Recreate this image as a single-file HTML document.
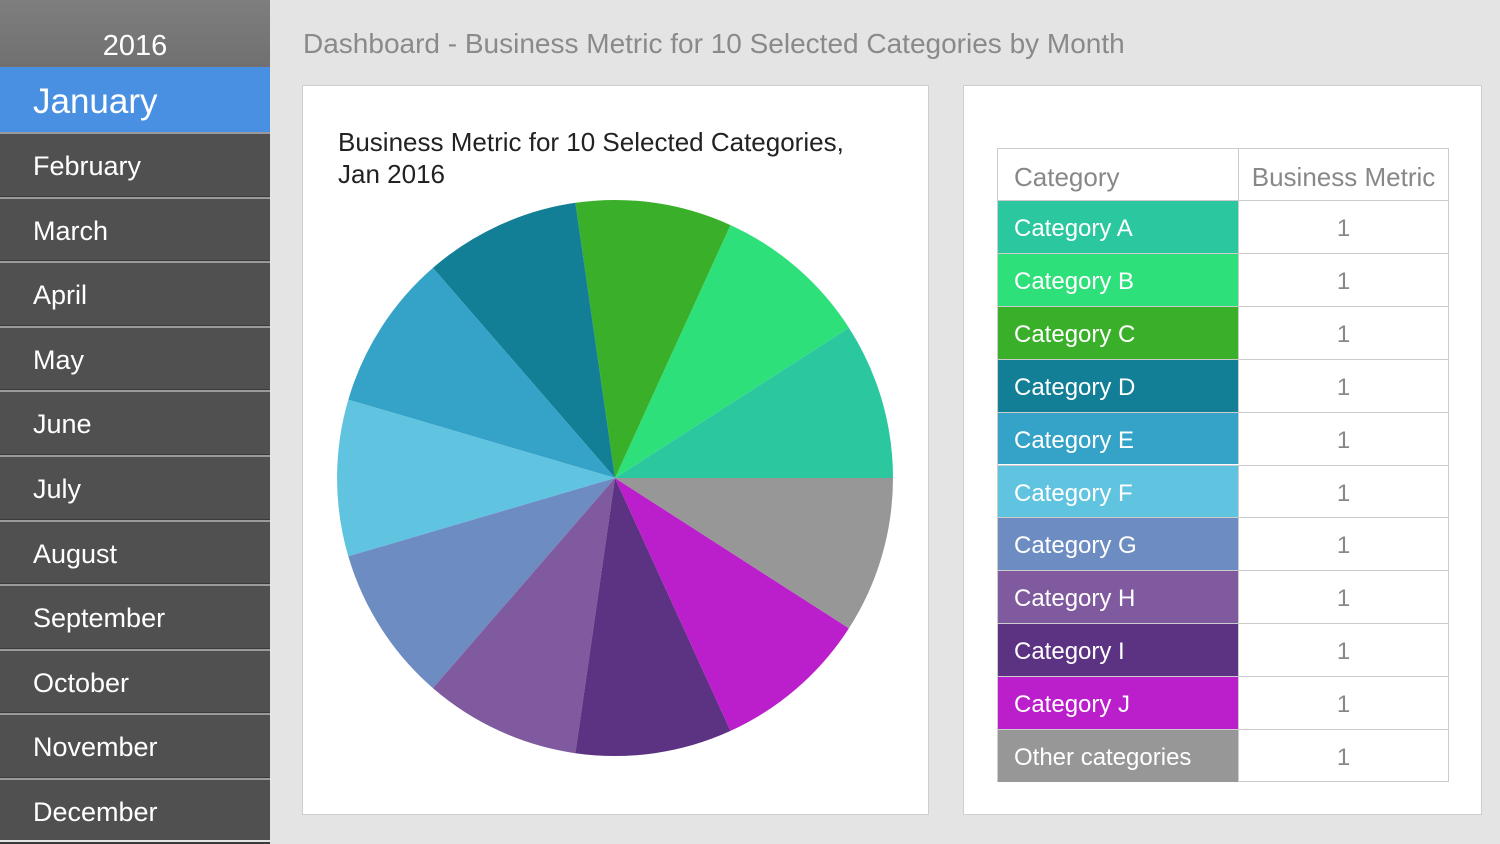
<!DOCTYPE html>
<html><head><meta charset="utf-8"><style>
body{margin:0;width:1500px;height:840px;background:#e4e4e4;font-family:"Liberation Sans",sans-serif;position:relative;overflow:hidden}
.side{position:absolute;left:0;top:0;width:270px;height:840px;background:#505050}
.yr{position:absolute;left:0;top:0;width:270px;height:67px;background:linear-gradient(#7e7e7e,#707070);color:#fff;font-size:29px;text-align:center;line-height:92px}
.jan{position:absolute;left:0;top:67px;width:270px;height:65px;background:#4a90e2;color:#fff;font-size:35px;line-height:70px;padding-left:33px;box-sizing:border-box}
.m{position:absolute;left:0;width:270px;height:64.6px;color:#fff;font-size:27px;padding-left:33px;box-sizing:border-box;border-top:2px solid #9a9a9a;line-height:64px}
.m:after{content:"";position:absolute;left:0;right:0;bottom:-1px;height:2px;background:#3a3a3a}
.title{position:absolute;left:303px;top:28px;color:#8a8a8a;font-size:28px}
.p{position:absolute;top:85px;height:728px;background:#fff;border:1px solid #cfcfcf}
.tb{position:absolute;left:997px;top:148px;width:452px;height:634px;border:1px solid #ccc;box-sizing:border-box}
.r{position:absolute;left:0;width:450px;height:52.9px;font-size:24px;line-height:56px;border-top:1px solid #ccc;box-sizing:border-box}
.r .c{position:absolute;left:0;top:0;width:240px;height:100%;color:#fff;padding-left:16px;box-sizing:border-box}
.r .v{position:absolute;left:240px;top:0;width:210px;height:100%;color:#888;text-align:center;border-left:1px solid #ccc;box-sizing:border-box}
</style></head><body>
<div class="side">
<div class="yr">2016</div>
<div class="jan">January</div>
<div class="m" style="top:132px">February</div>
<div class="m" style="top:196.6px">March</div>
<div class="m" style="top:261.2px">April</div>
<div class="m" style="top:325.8px">May</div>
<div class="m" style="top:390.4px">June</div>
<div class="m" style="top:455px">July</div>
<div class="m" style="top:519.6px">August</div>
<div class="m" style="top:584.2px">September</div>
<div class="m" style="top:648.8px">October</div>
<div class="m" style="top:713.4px">November</div>
<div class="m" style="top:778px">December</div>
</div>
<div class="title">Dashboard - Business Metric for 10 Selected Categories by Month</div>
<div class="p" style="left:302px;width:625px"></div>
<div class="p" style="left:963px;width:517px"></div>
<div style="position:absolute;left:338px;top:126px;font-size:26px;color:#222;line-height:32px">Business Metric for 10 Selected Categories,<br>Jan 2016</div>
<svg style="position:absolute;left:0;top:0" width="1500" height="840">
<path d="M615,478 L893,478 A278,278 0 0 0 848.9,327.7Z" fill="#2bc8a0"/>
<path d="M615,478 L848.9,327.7 A278,278 0 0 0 730.5,225.1Z" fill="#2ee07a"/>
<path d="M615,478 L730.5,225.1 A278,278 0 0 0 575.4,202.8Z" fill="#3ab02a"/>
<path d="M615,478 L575.4,202.8 A278,278 0 0 0 432.9,267.9Z" fill="#137f96"/>
<path d="M615,478 L432.9,267.9 A278,278 0 0 0 348.3,399.7Z" fill="#35a3c8"/>
<path d="M615,478 L348.3,399.7 A278,278 0 0 0 348.3,556.3Z" fill="#60c3e0"/>
<path d="M615,478 L348.3,556.3 A278,278 0 0 0 432.9,688.1Z" fill="#6d8cc2"/>
<path d="M615,478 L432.9,688.1 A278,278 0 0 0 575.4,753.2Z" fill="#7f5a9e"/>
<path d="M615,478 L575.4,753.2 A278,278 0 0 0 730.5,730.9Z" fill="#5c3282"/>
<path d="M615,478 L730.5,730.9 A278,278 0 0 0 848.9,628.3Z" fill="#bb1ecb"/>
<path d="M615,478 L848.9,628.3 A278,278 0 0 0 893,478Z" fill="#979797"/>
</svg>
<div class="tb">
<div class="r" style="top:-1px;border-top:none;line-height:58px"><div class="c" style="color:#888;font-size:26px">Category</div><div class="v" style="font-size:26px">Business Metric</div></div>
<div class="r" style="top:51px"><div class="c" style="background:#2bc8a0">Category A</div><div class="v">1</div></div>
<div class="r" style="top:103.9px"><div class="c" style="background:#2ee07a">Category B</div><div class="v">1</div></div>
<div class="r" style="top:156.8px"><div class="c" style="background:#3ab02a">Category C</div><div class="v">1</div></div>
<div class="r" style="top:209.7px"><div class="c" style="background:#137f96">Category D</div><div class="v">1</div></div>
<div class="r" style="top:262.6px"><div class="c" style="background:#35a3c8">Category E</div><div class="v">1</div></div>
<div class="r" style="top:315.5px"><div class="c" style="background:#60c3e0">Category F</div><div class="v">1</div></div>
<div class="r" style="top:368.4px"><div class="c" style="background:#6d8cc2">Category G</div><div class="v">1</div></div>
<div class="r" style="top:421.3px"><div class="c" style="background:#7f5a9e">Category H</div><div class="v">1</div></div>
<div class="r" style="top:474.2px"><div class="c" style="background:#5c3282">Category I</div><div class="v">1</div></div>
<div class="r" style="top:527.1px"><div class="c" style="background:#bb1ecb">Category J</div><div class="v">1</div></div>
<div class="r" style="top:580px"><div class="c" style="background:#979797">Other categories</div><div class="v">1</div></div>
</div>
</body></html>
